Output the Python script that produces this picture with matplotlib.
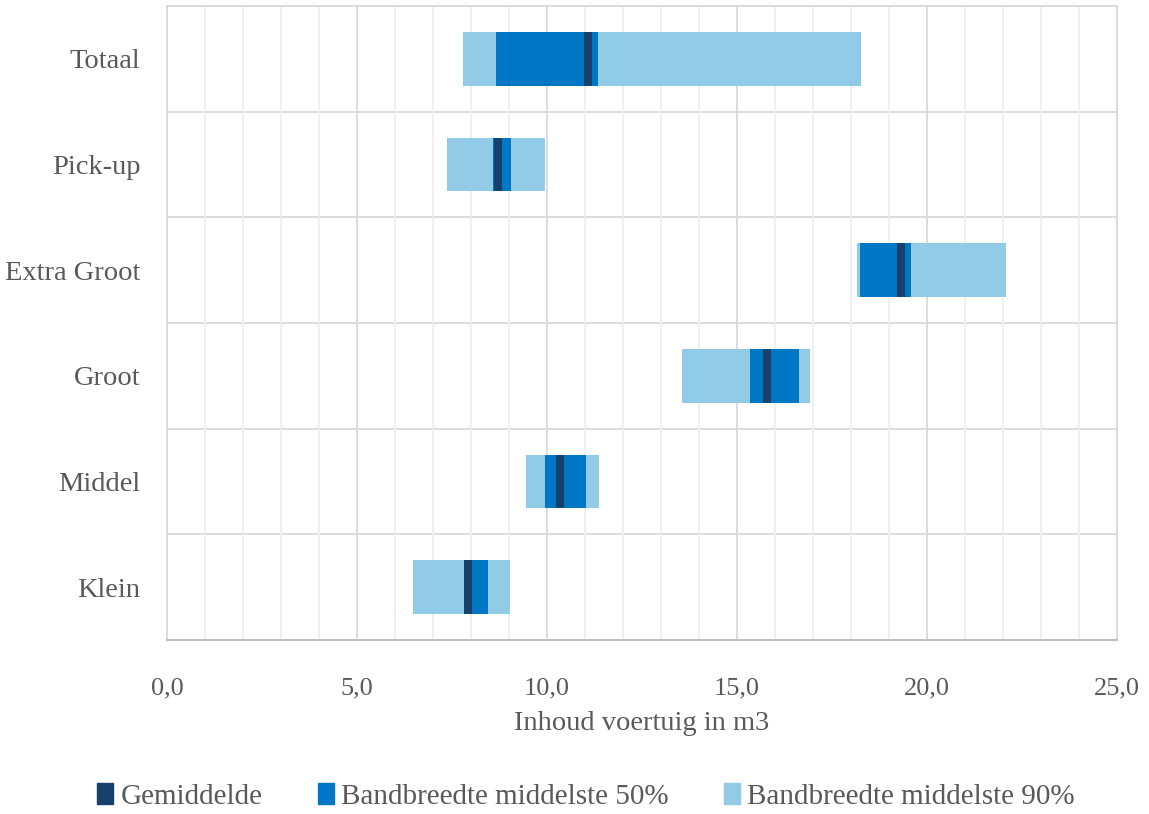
import matplotlib
matplotlib.use("Agg")
import matplotlib.pyplot as plt
from matplotlib.ticker import MultipleLocator, FuncFormatter
from matplotlib.patches import Patch

plt.rcParams['font.family'] = ['Liberation Serif', 'DejaVu Serif']

# categories, bottom to top
categories = ["Klein", "Middel", "Groot", "Extra Groot", "Pick-up", "Totaal"]
p5 = [6.48, 9.45, 13.55, 18.17, 7.36, 7.80]
p25 = [7.82, 9.96, 15.34, 18.24, 8.59, 8.65]
p75 = [8.44, 11.03, 16.63, 19.59, 9.04, 11.34]
p95 = [9.03, 11.38, 16.92, 22.09, 9.96, 18.26]
mean = [7.92, 10.35, 15.78, 19.31, 8.71, 11.07]

c_mean = "#17406d"
c_50 = "#0077c5"
c_90 = "#92cbe6"
txt = "#595959"
MEAN_W = 0.21
BAR_H = 0.51

fig = plt.figure(figsize=(11.49, 8.14), dpi=100)
ax = fig.add_axes([0.1453, 0.2138, 0.9722 - 0.1453, 0.9926 - 0.2138])

y = list(range(len(categories)))
ax.barh(y, [b - a for a, b in zip(p5, p95)], left=p5, height=BAR_H, color=c_90, zorder=3)
ax.barh(y, [b - a for a, b in zip(p25, p75)], left=p25, height=BAR_H, color=c_50, zorder=4)
ax.barh(y, [MEAN_W] * len(y), left=[m - MEAN_W / 2 for m in mean], height=BAR_H,
        color=c_mean, zorder=5)

ax.set_xlim(0, 25)
ax.set_ylim(-0.5, len(categories) - 0.5)
ax.xaxis.set_major_locator(MultipleLocator(5))
ax.xaxis.set_minor_locator(MultipleLocator(1))
ax.xaxis.set_major_formatter(FuncFormatter(lambda v, p: f"{v:.1f}".replace(".", ",")))
ax.grid(which="major", axis="x", color="#d9d9d9", lw=1.3, zorder=0)
ax.grid(which="minor", axis="x", color="#eeeeee", lw=1.2, zorder=0)

# horizontal separators between categories
for b in range(1, len(categories)):
    ax.axhline(b - 0.5, color="#d9d9d9", lw=1.3, zorder=1)

ax.set_yticks(y)
ax.set_yticklabels(categories)
ax.tick_params(axis="y", length=0, pad=19, labelsize=20.5, labelcolor=txt)
ax.tick_params(axis="x", which="both", length=0, pad=27, labelsize=19, labelcolor=txt)

for s in ["top", "right", "left"]:
    ax.spines[s].set_color("#d9d9d9")
    ax.spines[s].set_linewidth(1.3)
ax.spines["bottom"].set_color("#bfbfbf")
ax.spines["bottom"].set_linewidth(1.5)

ax.set_xlabel("Inhoud voertuig in m3", fontsize=20.5, color=txt, labelpad=8)

handles = [Patch(color=c_mean), Patch(color=c_50), Patch(color=c_90)]
labels = ["Gemiddelde", "Bandbreedte middelste 50%", "Bandbreedte middelste 90%"]
fig.legend(handles, labels, loc="center", bbox_to_anchor=(0.51, 0.022), ncol=3,
           frameon=False, fontsize=21, labelcolor=txt, handlelength=0.55,
           handleheight=0.75, handletextpad=0.25, columnspacing=1.9)

fig.savefig("out.png", dpi=100)
